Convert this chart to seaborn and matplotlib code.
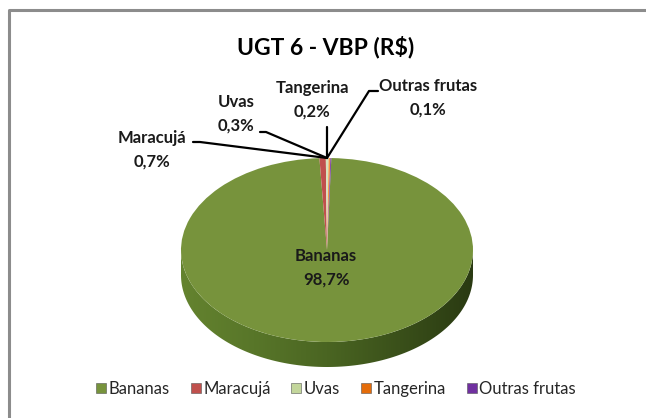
import numpy as np
import matplotlib
matplotlib.use("Agg")
import matplotlib.pyplot as plt
import seaborn as sns
from matplotlib.patches import Polygon, Patch
from matplotlib.colors import LinearSegmentedColormap

categories = ["Bananas", "Maracujá", "Uvas", "Tangerina", "Outras frutas"]
shares = [98.7, 0.7, 0.3, 0.2, 0.1]
share_labels = ["98,7%", "0,7%", "0,3%", "0,2%", "0,1%"]
colors = ["#77933C", "#C0504D", "#D7E4BD", "#F79646", "#7030A0"]
legend_colors = ["#77933C", "#C0504D", "#C3D69B", "#E46C0A", "#7030A0"]

sns.set_theme(style="white")
plt.rcParams["font.family"] = ["Lato", "DejaVu Sans"]

W, H = 646, 418
fig = plt.figure(figsize=(W / 100, H / 100), dpi=100)

# pie box in pixels: top ellipse 181..473 x, 158..342 y, depth 25
left, right, top, bottom_top, depth_px = 181, 473, 158, 342, 25
b_px = (bottom_top - top) / 2
d = depth_px / b_px
ax = fig.add_axes([left / W, (H - bottom_top - depth_px) / H,
                   (right - left) / W, (bottom_top + depth_px - top) / H])

ax.pie(shares, colors=colors, startangle=88.3, counterclock=False,
       radius=1, center=(0, 0), wedgeprops=dict(linewidth=0))

# 3d side of the pie
t = np.linspace(np.pi, 2 * np.pi, 200)
upper = np.column_stack([np.cos(t), np.sin(t)])
lower = np.column_stack([np.cos(t[::-1]), np.sin(t[::-1]) - d])
side = Polygon(np.vstack([upper, lower]), closed=True, facecolor="none",
               edgecolor="none")
ax.add_patch(side)
cmap = LinearSegmentedColormap.from_list(
    "side", ["#64832f", "#587629", "#4a6522", "#3a501a", "#2a3a12"])
grad = np.linspace(0, 1, 256).reshape(1, -1)
im = ax.imshow(grad, cmap=cmap, extent=(-1, 1, -1 - d, 0), aspect="auto",
               zorder=0)
im.set_clip_path(side)

ax.set_xlim(-1, 1)
ax.set_ylim(-1 - d, 1)
ax.set_aspect("auto")
ax.axis("off")

# overlay in pixel coordinates for labels and frame
ov = fig.add_axes([0, 0, 1, 1], zorder=5)
ov.set_xlim(0, W)
ov.set_ylim(H, 0)
ov.axis("off")
ov.patch.set_alpha(0)

# top point of the pie in overlay coords
disp = ax.transData.transform((0, 1))
apex = ov.transData.inverted().transform(disp)

ov.plot([9, 9, W], [H, 10, 10], color="#8c8c8c", lw=2.2, solid_capstyle="butt")

ov.text(W / 2 + 3, 47, "UGT 6 - VBP (R$)", ha="center", va="center",
        fontsize=16.5, fontweight="bold", color="#000000")

lab_kw = dict(ha="center", va="center", fontsize=12, fontweight="bold",
              color="#1a1a1a", linespacing=1.6)
label_pos = {
    "Bananas": (326, 268),
    "Maracujá": (152, 150),
    "Uvas": (236, 114),
    "Tangerina": (312, 100),
    "Outras frutas": (428, 98),
}
for cat, lab in zip(categories, share_labels):
    x, y = label_pos[cat]
    ov.text(x, y, f"{cat}\n{lab}", **lab_kw)

leaders = {
    "Maracujá": [(193, 142), (200, 142)],
    "Uvas": [(260, 132), (266, 132)],
    "Tangerina": [(327, 127)],
    "Outras frutas": [(378, 91), (369, 91)],
}
for cat, pts in leaders.items():
    xs = [p[0] for p in pts] + [apex[0]]
    ys = [p[1] for p in pts] + [apex[1]]
    ov.plot(xs, ys, color="black", lw=1.6)

handles = [Patch(facecolor=c, edgecolor="#555555", linewidth=0.4)
           for c in legend_colors]
fig.legend(handles, categories, loc="center", bbox_to_anchor=(0.52, 1 - 389 / H),
           ncol=5, frameon=False, fontsize=12, handlelength=0.6,
           handleheight=0.6, handletextpad=0.15, columnspacing=1.25)

fig.savefig("out.png", dpi=100)
